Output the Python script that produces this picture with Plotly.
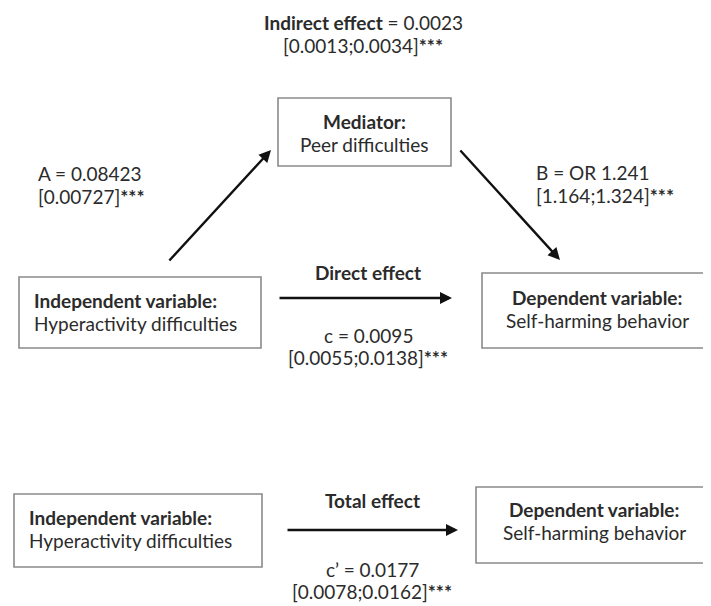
import plotly.graph_objects as go

# node labels (bold heading, plain sub-label)
node_titles = ["Mediator:", "Independent variable:", "Dependent variable:",
               "Independent variable:", "Dependent variable:"]
node_subtitles = ["Peer difficulties", "Hyperactivity difficulties", "Self-harming behavior",
                  "Hyperactivity difficulties", "Self-harming behavior"]

# path estimates
indirect_label = ["Indirect effect", "0.0023", "[0.0013;0.0034]"]
path_a = ["A = 0.08423", "[0.00727]"]
path_b = ["B = OR 1.241", "[1.164;1.324]"]
direct_label = ["Direct effect", "c = 0.0095", "[0.0055;0.0138]"]
total_label = ["Total effect", "c\u2019 = 0.0177", "[0.0078;0.0162]"]
signif = "***"

FONT = "Lato, 'Open Sans', sans-serif"
TXT = "#2b2b2b"
FS = 19

# page body has an 8px margin, so the figure covers pixels 8..711 / 8..606
OFF = 8
W, H = 711, 606

# box geometry in pixel space: x0, y0, x1, y1
boxes = [
    (278, 98, 451, 166),
    (19, 277, 261, 348),
    (482, 273, 709, 348),
    (14, 494, 262, 567),
    (476, 487, 709, 563),
]
# text anchor for each box: x, y of first line, xanchor
box_text = [
    (364, 121, "center"),
    (32, 300, "left"),
    (597, 297, "center"),
    (27, 517, "left"),
    (594, 509, "center"),
]
LINE = 23


def ci(s):
    return f"{s}<b>{signif}</b>"


fig = go.Figure()
fig.add_trace(go.Scatter(x=[OFF, W], y=[OFF, H], mode="markers",
                         marker=dict(opacity=0), hoverinfo="skip", showlegend=False))

for (x0, y0, x1, y1) in boxes:
    fig.add_shape(type="rect", x0=x0, y0=y0, x1=x1, y1=y1,
                  line=dict(color="#8a8a8a", width=1.6), fillcolor="white")

annotations = []
for (tx, ty, anc), title, sub in zip(box_text, node_titles, node_subtitles):
    annotations.append(dict(x=tx, y=ty, text=f"<b>{title}</b>", xanchor=anc))
    annotations.append(dict(x=tx, y=ty + LINE, text=sub, xanchor=anc))

# free text labels
annotations += [
    dict(x=363, y=22, text=f"<b>{indirect_label[0]}</b> = {indirect_label[1]}", xanchor="center"),
    dict(x=363, y=45, text=ci(indirect_label[2]), xanchor="center"),
    dict(x=36, y=173, text=path_a[0], xanchor="left"),
    dict(x=36, y=196, text=ci(path_a[1]), xanchor="left"),
    dict(x=534, y=172, text=path_b[0], xanchor="left"),
    dict(x=534, y=195, text=ci(path_b[1]), xanchor="left"),
    dict(x=368, y=272, text=f"<b>{direct_label[0]}</b>", xanchor="center"),
    dict(x=368, y=335, text=direct_label[1], xanchor="center"),
    dict(x=368, y=357, text=ci(direct_label[2]), xanchor="center"),
    dict(x=372, y=500, text=f"<b>{total_label[0]}</b>", xanchor="center"),
    dict(x=372, y=569, text=total_label[1], xanchor="center"),
    dict(x=372, y=591, text=ci(total_label[2]), xanchor="center"),
]
for a in annotations:
    a.update(xref="x", yref="y", showarrow=False, yanchor="middle",
             font=dict(family=FONT, size=FS, color=TXT), align="left")

# arrows: (tail x, tail y, head x, head y)
arrows = [
    (168, 262, 271, 150),
    (459, 149, 560, 260),
    (278, 298, 452, 298),
    (286, 530, 458, 530),
]
for (tx, ty, hx, hy) in arrows:
    annotations.append(dict(x=hx, y=hy, ax=tx, ay=ty, xref="x", yref="y",
                            axref="x", ayref="y", showarrow=True, arrowhead=2,
                            arrowsize=1.0, arrowwidth=2.4, arrowcolor="#111111",
                            text=""))

fig.update_layout(
    width=W - OFF, height=H - OFF,
    margin=dict(l=0, r=0, t=0, b=0),
    paper_bgcolor="white", plot_bgcolor="white",
    xaxis=dict(range=[OFF, W], visible=False, fixedrange=True),
    yaxis=dict(range=[H, OFF], visible=False, fixedrange=True),
    annotations=annotations,
    showlegend=False,
)

fig.write_html("out.html")
